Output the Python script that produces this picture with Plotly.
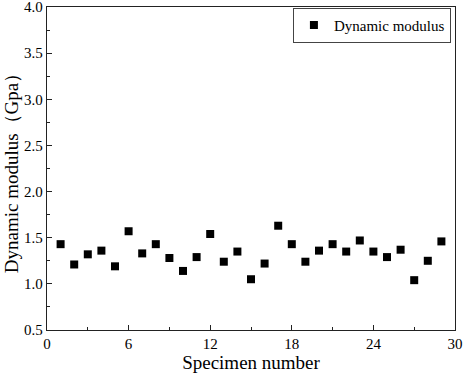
import plotly.graph_objects as go

specimen = list(range(1, 30))
modulus = [1.43, 1.21, 1.32, 1.36, 1.19, 1.57, 1.33, 1.43, 1.28, 1.14,
           1.29, 1.54, 1.24, 1.35, 1.05, 1.22, 1.63, 1.43, 1.24, 1.36,
           1.43, 1.35, 1.47, 1.35, 1.29, 1.37, 1.04, 1.25, 1.46]
x_ticks = [0, 6, 12, 18, 24, 30]
y_ticks = [0.5, 1.0, 1.5, 2.0, 2.5, 3.0, 3.5, 4.0]

font = "Liberation Serif, Times New Roman, serif"

fig = go.Figure()
fig.add_trace(go.Scatter(
    x=specimen, y=modulus, mode="markers", name="Dynamic modulus",
    marker=dict(symbol="square", size=8, color="black"),
))

axis_common = dict(
    showgrid=False, zeroline=False, showline=True, linecolor="#222",
    linewidth=1.3, mirror=True, ticks="inside", ticklen=5, tickcolor="#222",
    tickfont=dict(family=font, size=15, color="black"),
    automargin=False, ticklabeloverflow="allow",
)
fig.update_xaxes(
    range=[0, 30], tickvals=x_ticks,
    minor=dict(ticks="inside", ticklen=3, dtick=3, tickcolor="#222"),
    title=dict(text="Specimen number", font=dict(family=font, size=19, color="black"), standoff=2),
    **axis_common,
)
fig.update_yaxes(
    range=[0.5, 4.0], tickvals=y_ticks, tickformat=".1f",
    minor=dict(ticks="inside", ticklen=3, dtick=0.25, tickcolor="#222"),
    title=dict(text="Dynamic modulus（Gpa）", font=dict(family=font, size=19, color="black"), standoff=0),
    **axis_common,
)
fig.update_layout(
    width=464, height=374,
    margin=dict(l=47, r=9, t=7, b=44),
    plot_bgcolor="white", paper_bgcolor="white",
    showlegend=True,
    legend=dict(x=0.99, y=0.998, xanchor="right", yanchor="top",
                bordercolor="#444", borderwidth=1, bgcolor="white",
                font=dict(family=font, size=15, color="black"),
                itemwidth=30, tracegroupgap=0),
)
fig.write_html("out.html", config={"displayModeBar": False},
               post_script="document.body.style.margin='0';")
